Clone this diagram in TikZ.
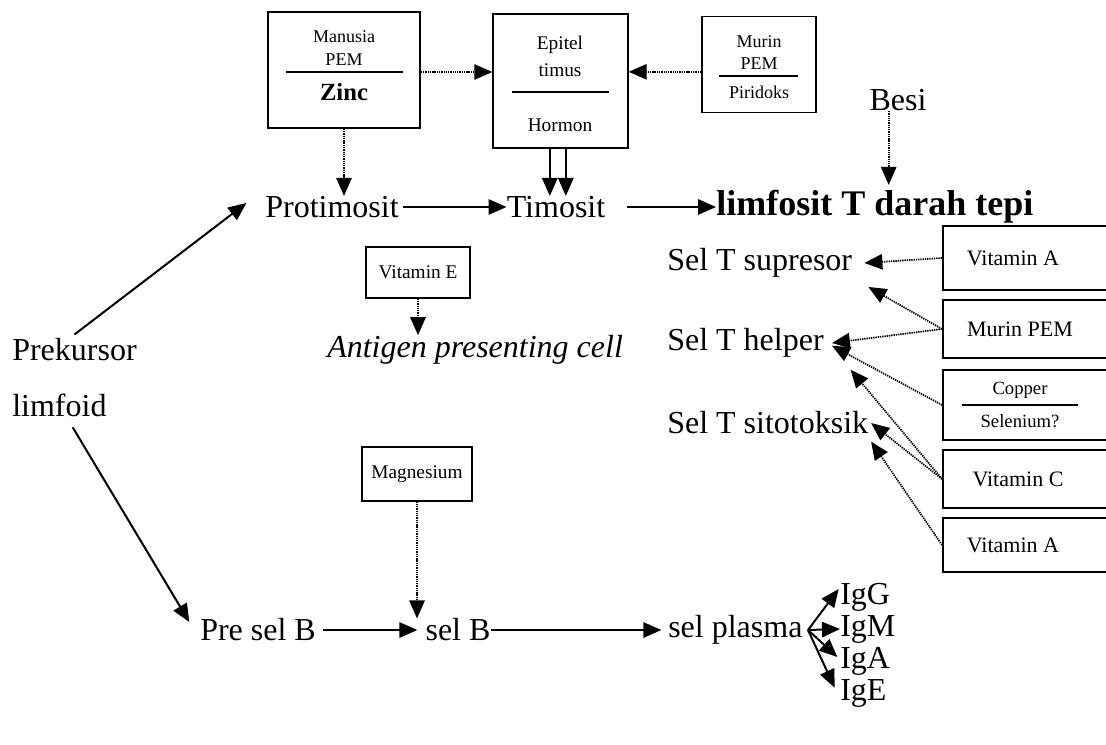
\documentclass[tikz,border=0pt]{standalone}
\usepackage{fontspec}
\setmainfont{Liberation Serif}
\usetikzlibrary{arrows.meta}
\begin{document}
\begin{tikzpicture}[x=0.75pt,y=-0.75pt,
  txt/.style={inner sep=0pt, font=\fontsize{24}{28}\selectfont},
  btxt/.style={inner sep=0pt, font=\fontsize{27}{30}\selectfont\bfseries},
  smalltxt/.style={inner sep=0pt, font=\fontsize{13.5}{15}\selectfont},
  midtxt/.style={inner sep=0pt, font=\fontsize{14.5}{16}\selectfont},
  rtxt/.style={inner sep=0pt, font=\fontsize{16.5}{19}\selectfont},
  box/.style={draw, line width=1.3pt, inner sep=0pt},
  sep/.style={line width=1.2pt},
  solidarr/.style={line width=1.5pt, -{Triangle[length=13.5pt,width=11.5pt]}},
  dotarr/.style={line width=1.3pt, dash pattern=on 1pt off 0.7pt, -{Triangle[length=13.5pt,width=11.5pt]}},
]
\useasboundingbox (0,0) rectangle (1106,745);

% ---------- top boxes ----------
\node[box, minimum width=114pt, minimum height=87pt] (manusia) at (344,70) {};
\node[smalltxt] (manusiaT) at (344,37) {Manusia};
\node[smalltxt] (pemA) at (344,60) {PEM};
\draw[sep] (286,72) -- (403,72);
\node[inner sep=0pt, font=\fontsize{18.5}{20}\selectfont\bfseries] (zinc) at (344,92) {Zinc};

\node[box, minimum width=101pt, minimum height=100pt] (epitel) at (560.5,81) {};
\node[midtxt] (epitelT) at (560,45) {Epitel};
\node[midtxt] (timus) at (560,70) {timus};
\draw[sep] (512,92) -- (609,92);
\node[midtxt] (hormon) at (560,125) {Hormon};

\node[box, minimum width=85.5pt, minimum height=72pt] (murin) at (759,64.5) {};
\node[smalltxt] (murinT) at (759,42) {Murin};
\node[smalltxt] (pemB) at (759,64) {PEM};
\draw[sep] (719,76) -- (798,76);
\node[smalltxt] (piridoks) at (759,92) {Piridoks};

\node[txt] (besi) at (898,100) {Besi};

% ---------- T row ----------
\node[txt] (protimosit) at (332,207) {Protimosit};
\node[txt] (timosit) at (556,207) {Timosit};
\node[btxt, anchor=west] (limfosit) at (716,207) {limfosit T darah tepi};

\draw[dotarr] ([yshift=-1.5pt]manusia.east) -- ([yshift=-1.5pt]manusia.east -| epitel.west);
\draw[dotarr] ([yshift=-5.5pt]murin.west) -- ([yshift=-5.5pt]murin.west -| epitel.east);
\draw[dotarr] (manusia.south) -- (manusia.south |- protimosit.north);
\draw[solidarr] ([xshift=-8pt]epitel.south) -- ([xshift=-8pt]epitel.south |- timosit.north);
\draw[solidarr] ([xshift=4pt]epitel.south) -- ([xshift=4pt]epitel.south |- timosit.north);
\draw[dotarr] ([xshift=-7pt]besi.south) -- ([xshift=-7pt,yshift=4pt]besi.south |- limfosit.north);
\draw[solidarr] ([xshift=3pt]protimosit.east) -- (timosit.west);
\draw[solidarr] ([xshift=16pt]timosit.east) -- (limfosit.west);

% ---------- left ----------
\node[txt, anchor=west] (prekursor) at (12,350) {Prekursor};
\node[txt, anchor=west] (limfoid) at (12,405) {limfoid};
\draw[solidarr] ([yshift=3pt]prekursor.north) -- ([xshift=-14pt,yshift=3pt]protimosit.west);

% ---------- Vitamin E / APC ----------
\node[box, minimum width=78pt, minimum height=38pt, font=\fontsize{14.5}{16}\selectfont] (vitE) at (418,272.5) {Vitamin E};
\node[inner sep=0pt, anchor=west, font=\fontsize{24}{28}\selectfont\itshape] (apc) at (327,350) {Antigen presenting cell};
\draw[dotarr] (vitE.south) -- (vitE.south |- apc.north);

% ---------- T subsets ----------
\node[txt, anchor=west] (supresor) at (667,263) {Sel T supresor};
\node[txt, anchor=west] (helper) at (667,343) {Sel T helper};
\node[txt, anchor=west] (sitotoksik) at (667,423) {Sel T sitotoksik};

\node[box, anchor=west, minimum width=135pt, minimum height=48pt] (vitA1) at (942,258) {};
\node[rtxt] (vitA1T) at (1013,258) {Vitamin A};
\node[box, anchor=west, minimum width=135pt, minimum height=43pt] (murinpem) at (942,329) {};
\node[rtxt] (murinpemT) at (1020,329) {Murin PEM};
\node[box, anchor=west, minimum width=135pt, minimum height=52pt] (copper) at (942,405) {};
\node[inner sep=0pt, font=\fontsize{14}{16}\selectfont] (copperT) at (1020,390) {Copper};
\draw[sep] (962,405) -- (1078,405);
\node[inner sep=0pt, font=\fontsize{14}{16}\selectfont] (selen) at (1020,421) {Selenium?};
\node[box, anchor=west, minimum width=135pt, minimum height=44pt] (vitC) at (942,479) {};
\node[rtxt] (vitCT) at (1018,479) {Vitamin C};
\node[box, anchor=west, minimum width=135pt, minimum height=41pt] (vitA2) at (942,545) {};
\node[rtxt] (vitA2T) at (1013,545) {Vitamin A};

\draw[dotarr] (vitA1.west) -- ([xshift=9pt]supresor.east);
\draw[dotarr] (murinpem.west) -- ([xshift=12pt,yshift=-18pt]supresor.east);
\draw[dotarr] (murinpem.west) -- ([xshift=6pt]helper.east);
\draw[dotarr] (copper.west) -- ([xshift=6pt,yshift=-2pt]helper.east);
\draw[dotarr] (vitC.west) -- ([xshift=20pt,yshift=-20pt]helper.east);
\draw[dotarr] (vitC.west) -- ([xshift=2pt]sitotoksik.east);
\draw[dotarr] (vitA2.west) -- ([xshift=2pt,yshift=-14pt]sitotoksik.east);

% ---------- B row ----------
\node[box, minimum width=82pt, minimum height=40pt, font=\fontsize{14.5}{16}\selectfont] (magn) at (417,474) {Magnesium};
\node[txt, anchor=west] (presel) at (200,630) {Pre sel B};
\node[txt] (selB) at (458,630) {sel B};
\node[txt, anchor=west] (plasma) at (668,630) {sel plasma};

\draw[solidarr] ([xshift=10pt,yshift=-8pt]limfoid.south) -- ([xshift=-8pt,yshift=6pt]presel.west);
\draw[dotarr] (magn.south) -- (magn.south |- selB.north);
\draw[solidarr] ([xshift=5pt]presel.east) -- ([xshift=-6pt]selB.west);
\draw[solidarr] (selB.east) -- ([xshift=-5pt]plasma.west);

\node[txt, anchor=west] (igG) at (840,597) {IgG};
\node[txt, anchor=west] (igM) at (840,629) {IgM};
\node[txt, anchor=west] (igA) at (840,661) {IgA};
\node[txt, anchor=west] (igE) at (840,693) {IgE};
\coordinate (fan) at (808,630);
\draw[solidarr] (fan) -- ([xshift=-1pt,yshift=6pt]igG.west);
\draw[solidarr] (fan) -- (igM.west);
\draw[solidarr] (fan) -- ([xshift=-2pt,yshift=3pt]igA.west);
\draw[solidarr] (fan) -- ([xshift=-4pt,yshift=4pt]igE.west);
\end{tikzpicture}
\end{document}
